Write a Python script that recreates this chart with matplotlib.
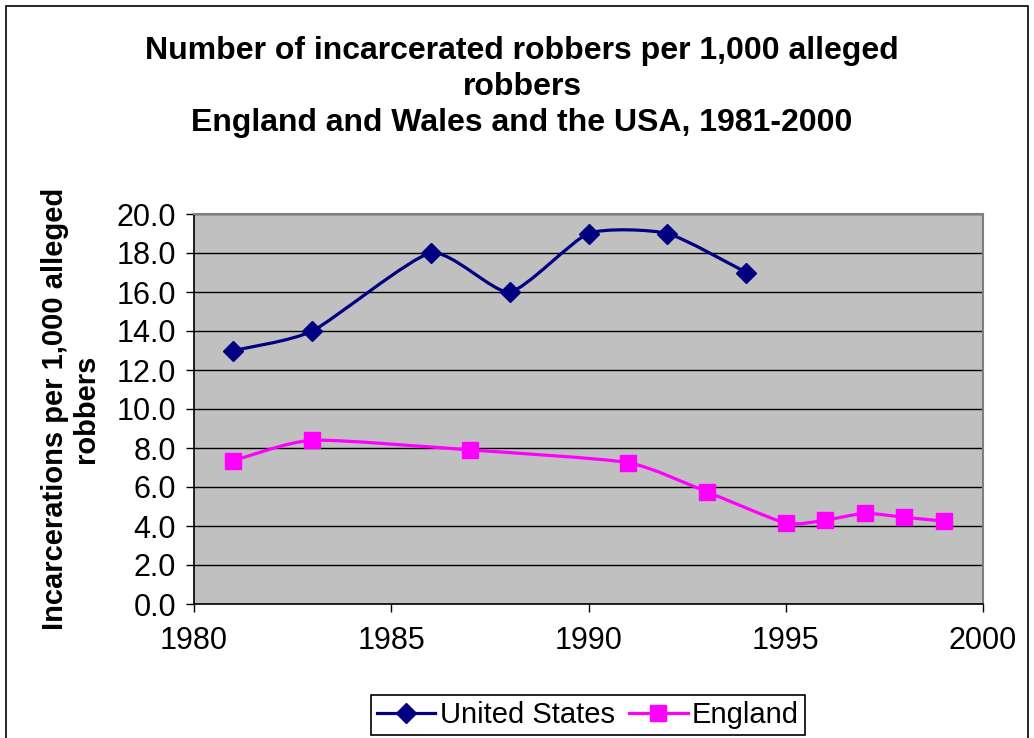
import numpy as np
import matplotlib.pyplot as plt
from matplotlib.path import Path
from matplotlib.patches import PathPatch, Rectangle
from matplotlib.lines import Line2D

plt.rcParams['font.family'] = ['Liberation Sans', 'DejaVu Sans']

# data
us_years = [1981, 1983, 1986, 1988, 1990, 1992, 1994]
us_rate = [13.0, 14.0, 18.0, 16.0, 19.0, 19.0, 17.0]

eng_years = [1981, 1983, 1987, 1991, 1993, 1995, 1996, 1997, 1998, 1999]
eng_rate = [7.35, 8.4, 7.9, 7.25, 5.75, 4.15, 4.3, 4.65, 4.45, 4.25]

x_ticks = [1980, 1985, 1990, 1995, 2000]
y_ticks = [0, 2, 4, 6, 8, 10, 12, 14, 16, 18, 20]

navy = '#000080'
magenta = '#FF00FF'


def smooth_path(xs, ys, k=10.0):
    # Excel-like smoothed line: cubic bezier segments through every point
    p = np.column_stack([xs, ys]).astype(float)
    ext = np.vstack([p[0], p, p[-1]])
    verts = [p[0]]
    codes = [Path.MOVETO]
    for i in range(len(p) - 1):
        p0, p1, p2, p3 = ext[i], ext[i + 1], ext[i + 2], ext[i + 3]
        c1 = p1 + (p2 - p0) / k
        c2 = p2 - (p3 - p1) / k
        verts += [c1, c2, p2]
        codes += [Path.CURVE4] * 3
    return Path(verts, codes)


fig = plt.figure(figsize=(10.34, 7.38), dpi=100)
ax = fig.add_axes([194 / 1034, 1 - 604 / 738, (983 - 194) / 1034, (604 - 214) / 738])
ax.set_facecolor('#C0C0C0')

for xs, ys, col, mk, ms in [(us_years, us_rate, navy, 'D', 10),
                            (eng_years, eng_rate, magenta, 's', 11)]:
    ax.add_patch(PathPatch(smooth_path(xs, ys), facecolor='none', edgecolor=col,
                           lw=2.3, zorder=3))
    ax.plot(xs, ys, linestyle='none', marker=mk, ms=ms, color=col, zorder=4)

ax.set_xlim(1980, 2000)
ax.set_ylim(0, 20)
ax.set_xticks(x_ticks)
ax.set_yticks(y_ticks)
ax.set_yticklabels(['%.1f' % v for v in y_ticks])
ax.yaxis.grid(True, color='black', lw=1)
ax.set_axisbelow(True)
ax.tick_params(direction='out', length=6, width=1, labelsize=22, colors='black')
ax.tick_params(axis='y', pad=7)
ax.tick_params(axis='x', pad=10)
for s in ['top', 'right']:
    ax.spines[s].set_color('#808080')
    ax.spines[s].set_linewidth(1.5)
for s in ['left', 'bottom']:
    ax.spines[s].set_color('black')
    ax.spines[s].set_linewidth(1.2)

ax.set_ylabel('Incarcerations per 1,000 alleged\nrobbers', fontsize=21,
              fontweight='bold', linespacing=1.15)
ax.yaxis.set_label_coords((100 - 194) / 789, 0.5)

fig.text(522 / 1034, 1 - 87 / 738,
         'Number of incarcerated robbers per 1,000 alleged\nrobbers\n'
         'England and Wales and the USA, 1981-2000',
         ha='center', va='center', fontsize=23, fontweight='bold', linespacing=1.25)

handles = [Line2D([], [], color=navy, marker='D', ms=10, lw=2.3),
           Line2D([], [], color=magenta, marker='s', ms=11, lw=2.3)]
leg = fig.legend(handles, ['United States', 'England'], loc='lower center',
                 bbox_to_anchor=(588 / 1034, 3 / 738), ncol=2, fontsize=21,
                 frameon=True, fancybox=False, edgecolor='black', framealpha=1,
                 handlelength=2.0, handletextpad=0.15, columnspacing=0.5,
                 borderpad=0.2, borderaxespad=0)
leg.get_frame().set_linewidth(1.2)

fig.patches.append(Rectangle((6 / 1034, -0.05), (1028 - 6) / 1034, 1.05 - 6 / 738,
                             transform=fig.transFigure, fill=False,
                             edgecolor='black', lw=1.2))

fig.savefig('out.png', dpi=100)
